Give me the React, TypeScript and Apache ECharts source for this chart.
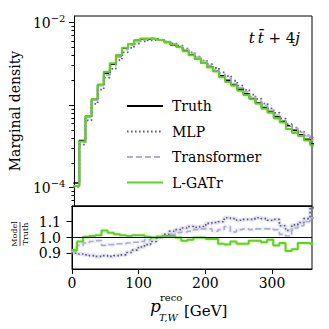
import React, { useEffect, useRef } from "react";
import * as echarts from "echarts";

// Histogram binning (GeV)
const BIN_START = -1.7;
const BIN_WIDTH = 9.2;

// Truth marginal density per bin
const truth = [
  1.14e-4, 3.72e-4, 7.35e-4, 1.17e-3, 1.75e-3, 2.43e-3, 3.12e-3, 3.97e-3, 4.89e-3, 5.46e-3,
  6.05e-3, 6.31e-3, 6.38e-3, 6.31e-3, 6.1e-3, 5.75e-3, 5.37e-3, 5.01e-3, 4.57e-3, 4.07e-3,
  3.63e-3, 3.24e-3, 2.88e-3, 2.57e-3, 2.27e-3, 2.0e-3, 1.76e-3, 1.55e-3, 1.37e-3, 1.2e-3,
  1.06e-3, 9.33e-4, 8.22e-4, 7.24e-4, 6.38e-4, 5.62e-4, 4.95e-4, 4.37e-4, 3.85e-4, 3.39e-4,
];

// Model / Truth ratios per bin
const ratioMLP = [
  0.9, 0.895, 0.89, 0.885, 0.88, 0.885, 0.88, 0.885, 0.89, 0.905,
  0.92, 0.94, 0.955, 0.975, 1.0, 1.02, 1.04, 1.05, 1.06, 1.07,
  1.065, 1.07, 1.09, 1.095, 1.1, 1.125, 1.12, 1.11, 1.115, 1.115,
  1.125, 1.12, 1.11, 1.115, 1.075, 1.045, 1.08, 1.095, 1.12, 1.19,
];
const ratioTransformer = [
  0.91, 0.95, 0.965, 0.975, 0.98, 0.95, 0.955, 0.96, 0.96, 0.965,
  0.97, 0.975, 0.985, 1.0, 1.005, 1.01, 1.02, 1.03, 1.035, 1.04,
  1.05, 1.055, 1.055, 1.04, 1.05, 1.07, 1.035, 1.05, 1.055, 1.05,
  1.055, 1.055, 1.055, 1.05, 1.02, 1.01, 1.06, 1.075, 1.1, 1.125,
];
const ratioLGATr = [
  0.92, 0.975, 1.005, 1.01, 1.015, 1.045, 1.03, 1.02, 1.015, 1.01,
  1.015, 1.015, 1.005, 1.0, 1.005, 1.01, 1.01, 1.0, 0.98, 0.985,
  1.0, 1.0, 0.99, 0.99, 0.96, 0.955, 0.975, 0.96, 0.96, 0.98,
  0.98, 0.97, 0.985, 0.95, 0.965, 0.915, 0.925, 0.965, 0.965, 0.96,
];

const xTicks = [0, 100, 200, 300];
const ratioTicks = [0.9, 1.0, 1.1];
const densityMajorTicks = [1e-4, 1e-3, 1e-2];
const densityLabels = [1e-4, 1e-2];
const legendNames = ["Truth", "MLP", "Transformer", "L-GATr"];

const FONT = "DejaVu Serif";
const C_TRUTH = "#000000";
const C_MLP = "#5a5a8c";
const C_TRANS = "#aeacd8";
const C_LGATR = "#5fd31a";

function stepData(vals: number[]) {
  const pts: number[][] = [];
  for (let i = 0; i <= vals.length; i++) {
    pts.push([BIN_START + BIN_WIDTH * i, vals[Math.min(i, vals.length - 1)]]);
  }
  return pts;
}

function minorLogTicks(lo: number, hi: number) {
  const out: number[] = [];
  for (let d = -5; d <= -2; d++) {
    for (let k = 2; k <= 9; k++) {
      const v = k * Math.pow(10, d);
      if (v > lo && v < hi) out.push(v);
    }
  }
  return out;
}

export default function App() {
  const ref = useRef<HTMLDivElement>(null);
  useEffect(() => {
    if (!ref.current) return;
    const chart = echarts.init(ref.current, null, { renderer: "svg" });
    const yMin = 6.0e-5;
    const yMax = 1.2e-2;
    const mlp = truth.map((t, i) => t * ratioMLP[i]);
    const trans = truth.map((t, i) => t * ratioTransformer[i]);
    const lgatr = truth.map((t, i) => t * ratioLGATr[i]);

    const base = {
      type: "line",
      showSymbol: false,
      symbol: "none",
      step: "end",
      clip: true,
      silent: true,
    };

    const band = (name: string, vals: number[], color: string) => ({
      ...base,
      name,
      xAxisIndex: 1,
      yAxisIndex: 2,
      data: stepData(vals),
      lineStyle: { color, width: 4, opacity: 0.17 },
      z: 1,
    });

    chart.setOption({
      animation: false,
      backgroundColor: "#ffffff",
      grid: [
        { left: 72, right: 17, top: 16, height: 190, show: true, borderColor: "#000", borderWidth: 1, backgroundColor: "transparent" },
        { left: 72, right: 17, top: 206, height: 63, show: true, borderColor: "#000", borderWidth: 1, backgroundColor: "transparent" },
      ],
      legend: {
        data: legendNames,
        orient: "vertical",
        left: 121,
        top: 94,
        itemWidth: 36,
        itemHeight: 14,
        itemGap: 11.5,
        selectedMode: false,
        itemStyle: { opacity: 0 },
        textStyle: { fontFamily: FONT, fontSize: 14, color: "#000", padding: [0, 0, 0, 4] },
      },
      xAxis: [
        {
          gridIndex: 0, type: "value", min: 0, max: 360,
          axisLine: { show: true, lineStyle: { color: "#000" } },
          axisTick: { show: false }, axisLabel: { show: false }, splitLine: { show: false },
        },
        {
          gridIndex: 1, type: "value", min: 0, max: 360,
          axisLine: { show: true, lineStyle: { color: "#000" } },
          axisTick: { show: true, length: 5, lineStyle: { color: "#000" }, customValues: xTicks },
          axisLabel: { color: "#000", fontFamily: FONT, fontSize: 14, margin: 7, customValues: xTicks },
          splitLine: { show: false },
        },
      ],
      yAxis: [
        {
          gridIndex: 0, type: "log", logBase: 10, min: yMin, max: yMax,
          axisLine: { show: true, lineStyle: { color: "#000" } },
          axisTick: { show: true, length: 5.5, lineStyle: { color: "#000" }, customValues: densityMajorTicks },
          axisLabel: {
            customValues: densityLabels,
            margin: 9,
            formatter: (v: number) => {
              const e = Math.round(Math.log10(v));
              return `{b|10}{s|\u2212${Math.abs(e)}}`;
            },
            rich: {
              b: { fontFamily: FONT, fontSize: 14, color: "#000", lineHeight: 18 },
              s: { fontFamily: FONT, fontSize: 10, color: "#000", lineHeight: 10, verticalAlign: "top" },
            },
          },
          splitLine: { show: false },
          name: "Marginal density",
          nameLocation: "middle",
          nameGap: 33,
          nameTextStyle: { fontFamily: FONT, fontSize: 14, color: "#000" },
        },
        {
          gridIndex: 0, type: "log", logBase: 10, min: yMin, max: yMax, position: "left",
          axisLine: { show: false },
          axisTick: { show: true, length: 3, lineStyle: { color: "#000" }, customValues: minorLogTicks(yMin, yMax) },
          axisLabel: { show: false },
          splitLine: { show: false },
        },
        {
          gridIndex: 1, type: "value", min: 0.8, max: 1.2,
          axisLine: { show: true, lineStyle: { color: "#000" } },
          axisTick: { show: true, length: 5.5, lineStyle: { color: "#000" }, customValues: ratioTicks },
          axisLabel: {
            customValues: ratioTicks, color: "#000", fontFamily: FONT, fontSize: 14, margin: 11,
            formatter: (v: number) => v.toFixed(1),
          },
          splitLine: { show: false },
        },
      ],
      series: [
        { ...base, name: "Truth", xAxisIndex: 0, yAxisIndex: 0, data: stepData(truth), lineStyle: { color: C_TRUTH, width: 1.6 }, itemStyle: { color: C_TRUTH }, z: 3 },
        { ...base, name: "MLP", xAxisIndex: 0, yAxisIndex: 0, data: stepData(mlp), lineStyle: { color: C_MLP, width: 1.8, type: [1.6, 2.4] }, itemStyle: { color: C_MLP }, z: 3 },
        { ...base, name: "Transformer", xAxisIndex: 0, yAxisIndex: 0, data: stepData(trans), lineStyle: { color: C_TRANS, width: 1.6, type: [6, 3] }, itemStyle: { color: C_TRANS }, z: 3 },
        { ...base, name: "L-GATr", xAxisIndex: 0, yAxisIndex: 0, data: stepData(lgatr), lineStyle: { color: C_LGATR, width: 2 }, itemStyle: { color: C_LGATR }, z: 3 },
        band("MLP band", ratioMLP, C_MLP),
        band("Transformer band", ratioTransformer, C_TRANS),
        band("L-GATr band", ratioLGATr, C_LGATR),
        {
          type: "line", name: "ref", xAxisIndex: 1, yAxisIndex: 2, data: [], silent: true,
          markLine: { silent: true, symbol: "none", label: { show: false }, lineStyle: { color: "#000", width: 1, type: "solid" }, data: [{ yAxis: 1 }] },
          z: 2,
        },
        { ...base, name: "MLP", xAxisIndex: 1, yAxisIndex: 2, data: stepData(ratioMLP), lineStyle: { color: C_MLP, width: 1.6, type: [1.6, 2.4] }, z: 3 },
        { ...base, name: "Transformer", xAxisIndex: 1, yAxisIndex: 2, data: stepData(ratioTransformer), lineStyle: { color: C_TRANS, width: 1.6, type: [6, 3] }, z: 3 },
        { ...base, name: "L-GATr", xAxisIndex: 1, yAxisIndex: 2, data: stepData(ratioLGATr), lineStyle: { color: C_LGATR, width: 2 }, z: 3 },
      ],
      graphic: [
        {
          type: "text", x: 300, y: 38,
          style: {
            text: "{i|t}{r|\u2009}{i|t\u0304}{r| + 4}{i|j}",
            align: "right", verticalAlign: "middle",
            rich: {
              i: { fontFamily: FONT, fontStyle: "italic", fontSize: 15, fill: "#000" },
              r: { fontFamily: FONT, fontSize: 15, fill: "#000" },
            },
          },
        },
        {
          type: "group", x: 20, y: 234, rotation: Math.PI / 2,
          children: [
            { type: "text", x: 0, y: -1.5, style: { text: "Model", fontFamily: FONT, fontSize: 8, fill: "#000", align: "center", verticalAlign: "bottom" } },
            { type: "line", shape: { x1: -12, y1: 0, x2: 12, y2: 0 }, style: { stroke: "#000", lineWidth: 0.7 } },
            { type: "text", x: 0, y: 1.5, style: { text: "Truth", fontFamily: FONT, fontSize: 8, fill: "#000", align: "center", verticalAlign: "top" } },
          ],
        },
        {
          type: "group", x: 0, y: 0,
          children: [
            { type: "text", x: 150, y: 314, style: { text: "p", fontFamily: FONT, fontStyle: "italic", fontSize: 17, fill: "#000", verticalAlign: "bottom" } },
            { type: "text", x: 160, y: 302, style: { text: "reco", fontFamily: FONT, fontSize: 10, fill: "#000", verticalAlign: "bottom" } },
            { type: "text", x: 159, y: 322, style: { text: "T,W", fontFamily: FONT, fontStyle: "italic", fontSize: 10, fill: "#000", verticalAlign: "bottom" } },
            { type: "text", x: 184, y: 318, style: { text: "[GeV]", fontFamily: FONT, fontSize: 15, fill: "#000", verticalAlign: "bottom" } },
          ],
        },
      ],
    });
    return () => chart.dispose();
  }, []);
  return <div ref={ref} style={{ position: "fixed", left: 0, top: 0, width: 329, height: 329 }} />;
}
